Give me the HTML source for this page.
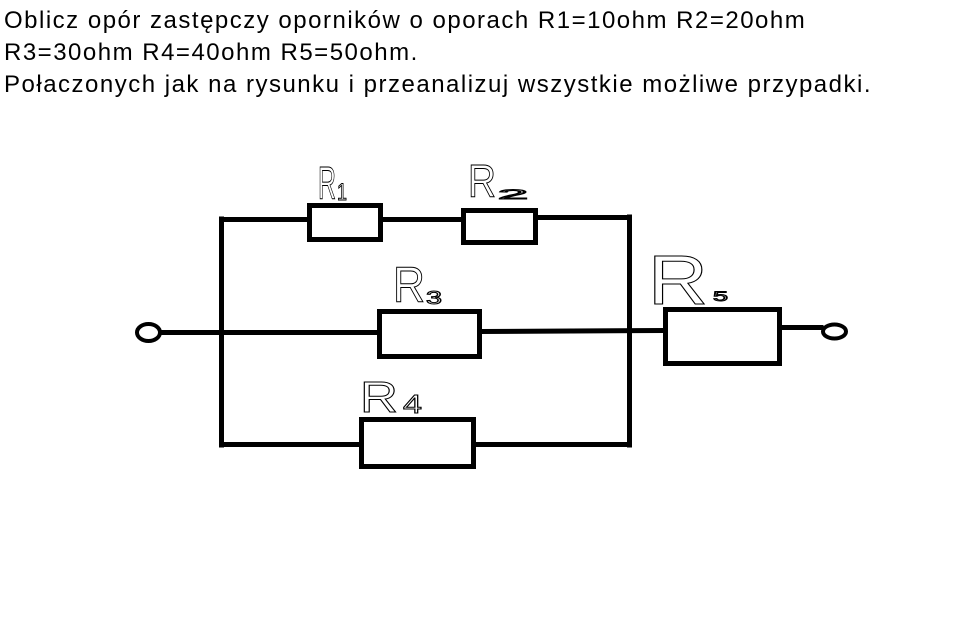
<!DOCTYPE html>
<html>
<head>
<meta charset="utf-8">
<style>
  html, body { margin: 0; padding: 0; background: #fff; }
  body { width: 962px; height: 621px; position: relative; overflow: hidden; }
  .title {
    position: absolute; left: 4px; top: 5px;
    font-family: "Liberation Sans", Arial, sans-serif;
    font-size: 24px; line-height: 32px; letter-spacing: 1.5px;
    color: #000; white-space: nowrap;
  }
  svg { position: absolute; left: 0; top: 0; }
</style>
</head>
<body>
<div class="title">Oblicz opór zastępczy oporników o oporach R1=10ohm R2=20ohm<br>R3=30ohm R4=40ohm R5=50ohm.<br>Połaczonych jak na rysunku i przeanalizuj wszystkie możliwe przypadki.</div>

<svg width="962" height="621" viewBox="0 0 962 621" xmlns="http://www.w3.org/2000/svg">
  <g stroke="#000" stroke-width="5" fill="none" stroke-linecap="square">
    <!-- left vertical -->
    <line x1="221.5" y1="219" x2="221.5" y2="445"/>
    <!-- right vertical -->
    <line x1="629.5" y1="217" x2="629.5" y2="445"/>
    <!-- top branch -->
    <line x1="221.5" y1="219.5" x2="307" y2="219.5"/>
    <line x1="383" y1="219.5" x2="461" y2="219.5"/>
    <line x1="538" y1="217.5" x2="629.5" y2="217.5"/>
    <!-- middle branch -->
    <line x1="162" y1="332.5" x2="377" y2="332.5"/>
    <line x1="482" y1="331.5" x2="663" y2="330.5"/>
    <line x1="782" y1="327.5" x2="821" y2="327.5"/>
    <!-- bottom branch -->
    <line x1="221.5" y1="444.5" x2="359" y2="444.5"/>
    <line x1="476" y1="444.5" x2="629.5" y2="444.5"/>
  </g>
  <g stroke="#000" stroke-width="5" fill="#fff">
    <!-- R1 -->
    <rect x="309.5" y="205.5" width="71" height="34"/>
    <!-- R2 -->
    <rect x="463.5" y="210.5" width="72" height="32"/>
    <!-- R3 -->
    <rect x="379.5" y="311.5" width="100" height="45"/>
    <!-- R4 -->
    <rect x="361.5" y="419.5" width="112" height="47"/>
    <!-- R5 -->
    <rect x="665.5" y="309.5" width="114" height="54"/>
  </g>
  <!-- terminals -->
  <g stroke="#000" stroke-width="4" fill="#fff">
    <ellipse cx="148.5" cy="332.5" rx="11.5" ry="8.5"/>
    <ellipse cx="834.5" cy="331.5" rx="11.5" ry="7"/>
  </g>
  <!-- hand-drawn style labels -->
  <g font-family="Liberation Sans, Arial, sans-serif" fill="none" stroke="#000" stroke-width="1">
    <text x="318" y="199" font-size="46" textLength="18" lengthAdjust="spacingAndGlyphs">R</text>
    <text x="337" y="200" font-size="24" textLength="10" lengthAdjust="spacingAndGlyphs">1</text>

    <text x="468" y="197" font-size="46" textLength="28" lengthAdjust="spacingAndGlyphs">R</text>
    <text x="498" y="199" font-size="14" textLength="30" lengthAdjust="spacingAndGlyphs">2</text>

    <text x="393" y="302" font-size="50" textLength="32" lengthAdjust="spacingAndGlyphs">R</text>
    <text x="426" y="304" font-size="18" textLength="16" lengthAdjust="spacingAndGlyphs">3</text>

    <text x="360" y="412" font-size="44" textLength="38" lengthAdjust="spacingAndGlyphs">R</text>
    <text x="403" y="413" font-size="26" textLength="19" lengthAdjust="spacingAndGlyphs">4</text>

    <text x="648" y="304" font-size="70" textLength="60" lengthAdjust="spacingAndGlyphs">R</text>
    <text x="713" y="301" font-size="14" textLength="15" lengthAdjust="spacingAndGlyphs">5</text>
  </g>
</svg>
</body>
</html>
